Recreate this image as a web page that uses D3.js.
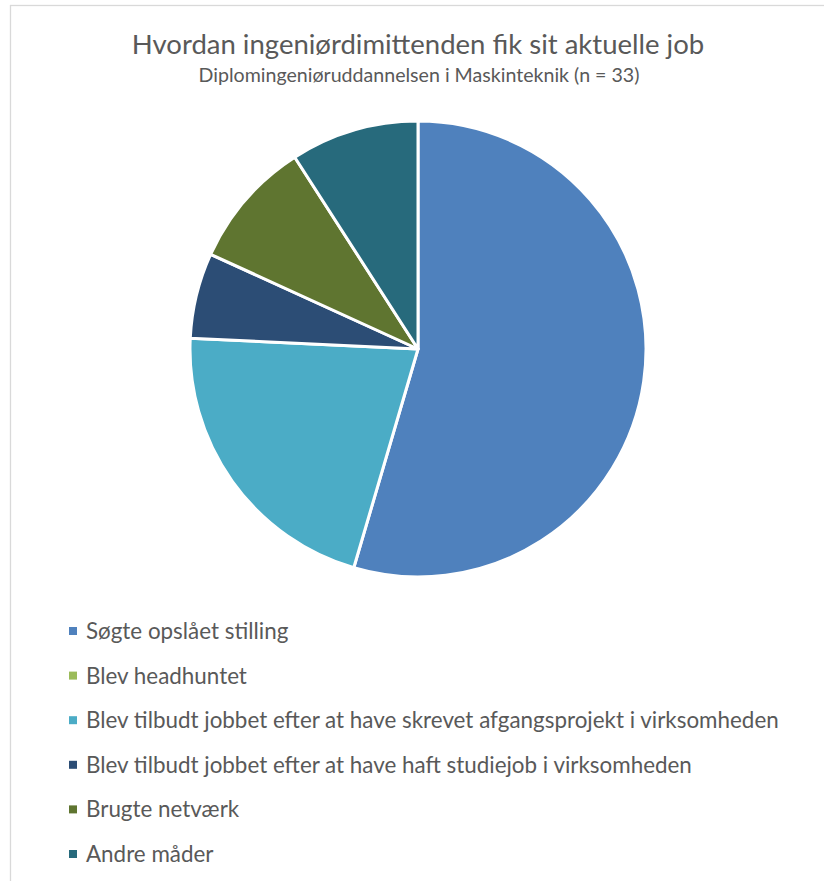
<!DOCTYPE html>
<html>
<head>
<meta charset="utf-8">
<style>
body { margin: 0; background: #fff; }
text { font-family: Lato, "Open Sans", sans-serif; fill: #595959; }
</style>
<title>Hvordan ingeniørdimittenden fik sit aktuelle job</title>
</head>
<body>
<svg width="824" height="881"></svg>
<script src="https://d3js.org/d3.v7.min.js"></script>
<script>
// data
var categories = [
  "Søgte opslået stilling",
  "Blev headhuntet",
  "Blev tilbudt jobbet efter at have skrevet afgangsprojekt i virksomheden",
  "Blev tilbudt jobbet efter at have haft studiejob i virksomheden",
  "Brugte netværk",
  "Andre måder"
];
var counts = [18, 0, 7, 2, 3, 3];
var colors = ["#4F81BD", "#9BBB59", "#4BACC6", "#2C4D75", "#5F7530", "#276A7C"];
var title = "Hvordan ingeniørdimittenden fik sit aktuelle job";
var subtitle = "Diplomingeniøruddannelsen i Maskinteknik (n = 33)";

var svg = d3.select("svg"),
    width = +svg.attr("width"),
    height = +svg.attr("height");

// chart area border
svg.append("rect")
    .attr("x", 10.5).attr("y", 5.5)
    .attr("width", width).attr("height", height)
    .attr("fill", "#fff")
    .attr("stroke", "#d9d9d9")
    .attr("stroke-width", 1.3);

svg.append("text")
    .attr("x", 418).attr("y", 54)
    .attr("text-anchor", "middle")
    .style("font-size", "27.5px")
    .text(title);

svg.append("text")
    .attr("x", 419).attr("y", 82)
    .attr("text-anchor", "middle")
    .style("font-size", "19.6px")
    .text(subtitle);

var color = d3.scaleOrdinal().domain(categories).range(colors);

var pie = d3.pie().sort(null).value(function(d) { return d.value; });
var arc = d3.arc().innerRadius(0).outerRadius(228);

var slices = categories.map(function(c, i) { return { name: c, value: counts[i] }; });

svg.append("g")
    .attr("transform", "translate(418,349)")
  .selectAll("path")
    .data(pie(slices).filter(function(d) { return d.data.value > 0; }))
  .enter().append("path")
    .attr("d", arc)
    .attr("fill", function(d) { return color(d.data.name); })
    .attr("stroke", "#fff")
    .attr("stroke-width", 3)
    .attr("stroke-linejoin", "round");

// legend
var legendY = d3.scalePoint().domain(categories).range([631, 854]);

var leg = svg.append("g").selectAll("g")
    .data(categories)
  .enter().append("g")
    .attr("transform", function(d) { return "translate(69," + legendY(d) + ")"; });

leg.append("rect")
    .attr("x", 0).attr("y", -4)
    .attr("width", 8).attr("height", 8)
    .attr("fill", function(d) { return color(d); });

leg.append("text")
    .attr("x", 17).attr("y", 8)
    .style("font-size", "22.4px")
    .text(function(d) { return d; });
</script>
</body>
</html>
